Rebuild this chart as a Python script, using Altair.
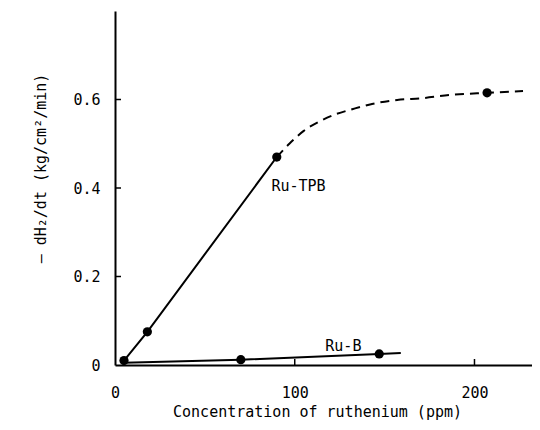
import altair as alt
import pandas as pd

# Ru-TPB measured points
tpb_x = [5, 18, 90, 207]
tpb_y = [0.01, 0.075, 0.47, 0.615]
# Ru-TPB solid segment
tpb_solid_x = [5, 18, 90]
tpb_solid_y = [0.01, 0.075, 0.47]
# Ru-TPB dashed curve
tpb_dash_x = [90, 97, 105, 114, 123, 132, 143, 157, 171, 186, 207, 227]
tpb_dash_y = [0.47, 0.50, 0.529, 0.551, 0.567, 0.578, 0.590, 0.599, 0.603, 0.610, 0.615, 0.619]
# Ru-B
rub_x = [70, 147]
rub_y = [0.012, 0.025]
rub_line_x = [5, 70, 147, 159]
rub_line_y = [0.005, 0.012, 0.025, 0.027]
# labels
lab_text = ["Ru-TPB", "Ru-B"]
lab_x = [87, 117]
lab_y = [0.405, 0.042]
# ticks
x_ticks = [100, 200]
y_ticks = [0.2, 0.4, 0.6]

W, H = 417, 354
FONT = "DejaVu Sans Mono"

xs = alt.Scale(domain=[0, 232], nice=False)
ys = alt.Scale(domain=[0, 0.8], nice=False)

pts = pd.DataFrame({"x": tpb_x + rub_x, "y": tpb_y + rub_y})
solid = pd.DataFrame({"x": tpb_solid_x, "y": tpb_solid_y})
dash = pd.DataFrame({"x": tpb_dash_x, "y": tpb_dash_y})
rub = pd.DataFrame({"x": rub_line_x, "y": rub_line_y})
labs = pd.DataFrame({"t": lab_text, "x": lab_x, "y": lab_y})

xaxis = alt.Axis(values=[0, 100, 200], title="Concentration of ruthenium (ppm)",
                 ticks=False, labelPadding=20, labelFontSize=15, labelFont=FONT,
                 titleFont=FONT, titleFontSize=15, titleFontWeight="normal",
                 titleX=202, titleY=46, titleBaseline="middle",
                 domainColor="black", domainWidth=2, labelColor="black", titleColor="black",
                 grid=False, labelFlush=False)
yaxis = alt.Axis(values=[0, 0.2, 0.4, 0.6], format=".1~f",
                 title="– dH₂/dt  (kg/cm²/min)",
                 ticks=False, labelPadding=15, labelFontSize=15, labelFont=FONT,
                 titleFont=FONT, titleFontSize=15, titleFontWeight="normal",
                 titleX=-75, titleY=157, titleBaseline="middle", titleAlign="center",
                 domainColor="black", domainWidth=2, labelColor="black", titleColor="black",
                 grid=False)

base_x = alt.X("x:Q", scale=xs, axis=xaxis)
base_y = alt.Y("y:Q", scale=ys, axis=yaxis)

l_solid = alt.Chart(solid).mark_line(color="black", strokeWidth=2).encode(x=base_x, y=base_y)
l_dash = alt.Chart(dash).mark_line(color="black", strokeWidth=2, strokeDash=[9, 6],
                                   interpolate="monotone").encode(x="x:Q", y="y:Q")
l_rub = alt.Chart(rub).mark_line(color="black", strokeWidth=2).encode(x="x:Q", y="y:Q")
p = alt.Chart(pts).mark_circle(color="black", opacity=1, size=85).encode(x="x:Q", y="y:Q")
t = alt.Chart(labs).mark_text(font=FONT, fontSize=15, align="left", baseline="middle",
                              color="black").encode(x="x:Q", y="y:Q", text="t:N")

xt = alt.Chart(pd.DataFrame({"x": x_ticks})).mark_rule(color="black", strokeWidth=1.5).encode(
    x="x:Q", y=alt.value(H), y2=alt.value(H - 6))
yt = alt.Chart(pd.DataFrame({"y": y_ticks})).mark_rule(color="black", strokeWidth=1.5).encode(
    y="y:Q", x=alt.value(0), x2=alt.value(6))

chart = alt.layer(l_solid, l_dash, l_rub, xt, yt, p, t).properties(
    width=W, height=H,
    autosize=alt.AutoSizeParams(type="none"),
    padding={"left": 107, "top": 3, "right": 0, "bottom": 55},
).configure_view(stroke=None)

chart.save("out.html", embed_options={"renderer": "svg", "actions": False})
